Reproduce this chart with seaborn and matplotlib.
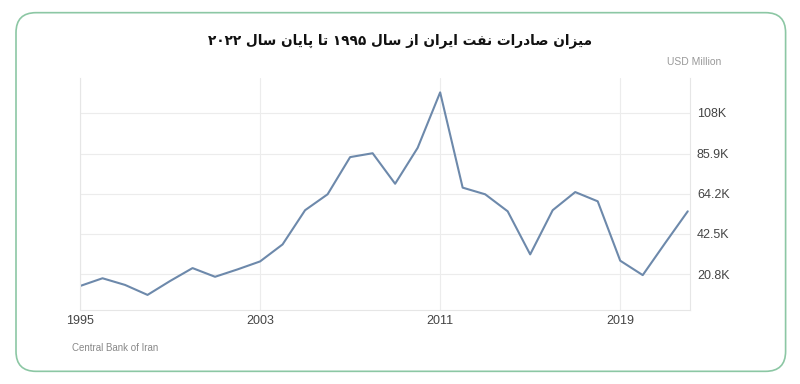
import seaborn as sns
import pandas as pd
import matplotlib.pyplot as plt
from matplotlib.patches import FancyBboxPatch

years = list(range(1995, 2023))
exports = [14.3, 18.5, 14.9, 9.5, 17.0, 24.0, 19.3, 23.3, 27.6, 36.8,
           55.3, 63.9, 84.0, 86.1, 69.6, 89.0, 119.0, 67.5, 63.9, 54.7,
           31.4, 55.3, 65.1, 60.1, 28.0, 20.2, 37.6, 54.7]  # thousand USD million
y_ticks = [20.8, 42.5, 64.2, 85.9, 108.0]
y_labels = ["20.8K", "42.5K", "64.2K", "85.9K", "108K"]
x_ticks = [1995, 2003, 2011, 2019]
title_words = ["میزان", "صادرات", "نفت", "ایران", "از", "سال", "۱۹۹۵", "تا", "پایان", "سال", "۲۰۲۲"]

# matplotlib has no arabic shaping, so pick presentation forms by hand
# (isolated, final, initial, medial)
FORMS = {
    "ا": ("\uFE8D", "\uFE8E", None, None),
    "پ": ("\uFB56", "\uFB57", "\uFB58", "\uFB59"),
    "ت": ("\uFE95", "\uFE96", "\uFE97", "\uFE98"),
    "د": ("\uFEA9", "\uFEAA", None, None),
    "ر": ("\uFEAD", "\uFEAE", None, None),
    "ز": ("\uFEAF", "\uFEB0", None, None),
    "س": ("\uFEB1", "\uFEB2", "\uFEB3", "\uFEB4"),
    "ص": ("\uFEB9", "\uFEBA", "\uFEBB", "\uFEBC"),
    "ف": ("\uFED1", "\uFED2", "\uFED3", "\uFED4"),
    "ل": ("\uFEDD", "\uFEDE", "\uFEDF", "\uFEE0"),
    "م": ("\uFEE1", "\uFEE2", "\uFEE3", "\uFEE4"),
    "ن": ("\uFEE5", "\uFEE6", "\uFEE7", "\uFEE8"),
    "ی": ("\uFBFC", "\uFBFD", "\uFBFE", "\uFBFF"),
}
LAM_ALEF = ("\uFEFB", "\uFEFC")


def shape_word(word):
    if word[0].isdigit():
        return word
    out = []
    i = 0
    prev_joins = False
    while i < len(word):
        ch = word[i]
        if ch == "ل" and i + 1 < len(word) and word[i + 1] == "ا":
            out.append(LAM_ALEF[1] if prev_joins else LAM_ALEF[0])
            prev_joins = False
            i += 2
            continue
        iso, fin, ini, med = FORMS[ch]
        nxt = i + 1 < len(word)
        can_join_next = ini is not None and nxt
        if prev_joins and can_join_next:
            out.append(med)
        elif prev_joins:
            out.append(fin)
        elif can_join_next:
            out.append(ini)
        else:
            out.append(iso)
        prev_joins = can_join_next
        i += 1
    return "".join(reversed(out))


title = " ".join(shape_word(w) for w in reversed(title_words))

df = pd.DataFrame({"year": years, "value": exports})

sns.set_theme(style="white")
plt.rcParams["font.family"] = ["Liberation Sans", "DejaVu Sans"]

fig = plt.figure(figsize=(8, 3.84), dpi=100)
card = FancyBboxPatch((0.02, 0.033), 0.962, 0.934, boxstyle="round,pad=0,rounding_size=0.025",
                      transform=fig.transFigure, facecolor="white", edgecolor="#8cc7a4",
                      linewidth=1.2, mutation_aspect=800 / 384, zorder=-10)
fig.patches.append(card)

ax = fig.add_axes([0.1, 0.193, 0.7625, 0.604])
ax.set_facecolor("none")
sns.lineplot(data=df, x="year", y="value", ax=ax, color="#6d89ab", linewidth=1.5)

ax.set_xlim(1995, 2022.1)
ax.set_ylim(1.4, 126.8)
ax.yaxis.tick_right()
ax.set_yticks(y_ticks)
ax.set_yticklabels(y_labels)
ax.set_xticks(x_ticks)
ax.set_xticklabels([str(x) for x in x_ticks])
ax.tick_params(axis="both", length=0, labelsize=9, colors="#444444")
ax.tick_params(axis="y", pad=5)
ax.tick_params(axis="x", pad=4)
ax.set_xlabel("")
ax.set_ylabel("")
ax.grid(True, color="#ececec", linewidth=0.8)
ax.spines["top"].set_visible(False)
for side in ["left", "right", "bottom"]:
    ax.spines[side].set_color("#e6e6e6")
    ax.spines[side].set_linewidth(0.8)

fig.text(0.5, 0.895, title, ha="center", va="center", fontsize=9.8,
         fontweight="bold", family=["DejaVu Sans"], color="#111111")
fig.text(0.902, 0.838, "USD Million", ha="right", va="center", fontsize=7.5, color="#999999")
fig.text(0.09, 0.094, "Central Bank of Iran", ha="left", va="center", fontsize=7, color="#888888")

fig.savefig("out.png", dpi=100)
